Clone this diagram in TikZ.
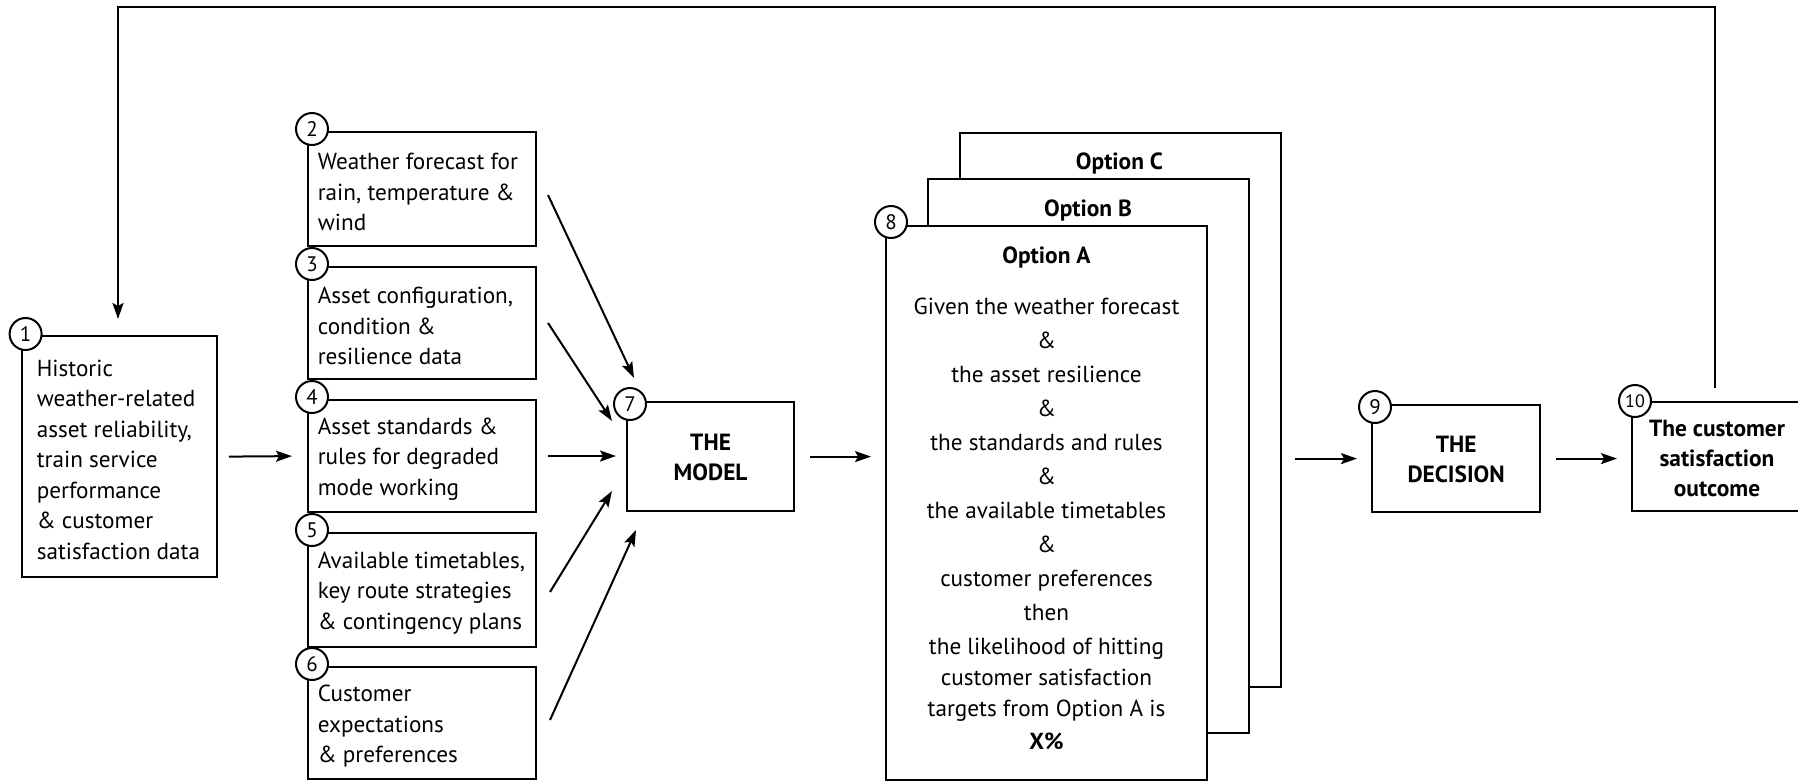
\documentclass[tikz,border=0pt]{standalone}
\usepackage{fontspec}
\setmainfont{PT Sans}
\usetikzlibrary{arrows.meta,calc}
\newcommand\mybody{\fontsize{23.2pt}{30.5pt}\selectfont}
\newcommand\mybold{\fontsize{23.4pt}{30pt}\selectfont\bfseries}
\newcommand\mynum{\fontsize{21pt}{21pt}\selectfont}
\begin{document}
\begin{tikzpicture}[x=1pt,y=-1pt,
  box/.style={draw,line width=2.2pt,fill=white,rectangle,inner sep=0pt,anchor=north west},
  txt/.style={font=\mybody,align=left,anchor=west,inner sep=0pt},
  ctxt/.style={font=\mybody,align=center,inner sep=0pt},
  btxt/.style={font=\mybold,align=center,inner sep=0pt},
  num/.style={circle,draw,line width=2pt,fill=white,minimum size=32pt,inner sep=0pt,font=\mynum},
  arr/.style={-{Stealth[length=16pt,width=11pt,inset=3pt]},line width=2pt}]
\useasboundingbox (0,0) rectangle (1798,780);

% boxes
\node[box,minimum width=195pt,minimum height=241pt] (b1) at (20.6,335) {};
\node[box,minimum width=228pt,minimum height=114pt] (b2) at (307,131) {};
\node[box,minimum width=228pt,minimum height=112pt] (b3) at (307,266) {};
\node[box,minimum width=228pt,minimum height=112pt] (b4) at (307,399) {};
\node[box,minimum width=228pt,minimum height=114pt] (b5) at (307,532) {};
\node[box,minimum width=228pt,minimum height=112pt] (b6) at (307,666) {};
\node[box,minimum width=167pt,minimum height=109pt] (m) at (626,401) {};
\node[box,minimum width=321pt,minimum height=554pt] (oC) at (959,132) {};
\node[box,minimum width=321pt,minimum height=554pt] (oB) at (927,178) {};
\node[box,minimum width=321pt,minimum height=554pt] (oA) at (885,225) {};
\node[box,minimum width=168pt,minimum height=107pt] (b9) at (1371,404) {};
\node[box,minimum width=172pt,minimum height=109pt] (b10) at (1631,401) {};

% texts
\node[txt] (t1) at ($(b1.west)+(16,3)$) {Historic\\weather-related\\asset reliability,\\train service\\performance\\\& customer\\satisfaction data};
\node[txt] (t2) at ($(b2.west)+(10.6,3)$) {Weather forecast for\\rain, temperature \&\\wind};
\node[txt] (t3) at ($(b3.west)+(10.6,3)$) {Asset configuration,\\condition \&\\resilience data};
\node[txt] (t4) at ($(b4.west)+(10.6,3)$) {Asset standards \&\\rules for degraded\\mode working};
\node[txt] (t5) at ($(b5.west)+(10.6,3)$) {Available timetables,\\key route strategies\\\& contingency plans};
\node[txt] (t6) at ($(b6.west)+(10.6,3)$) {Customer\\expectations\\\& preferences};
\node[btxt] (tm) at ($(m.center)+(0,1)$) {THE\\MODEL};
\node[btxt] (tC) at (1119.5,163) {Option C};
\node[btxt] (tB) at (1088,210) {Option B};
\node[btxt] (tA) at (1046.5,257) {Option A};
\node[ctxt,font=\fontsize{23.2pt}{34pt}\selectfont] (tAbody) at (1046.5,524) {Given the weather forecast\\\&\\the asset resilience\\\&\\the standards and rules\\\&\\the available timetables\\\&\\customer preferences\\then\\the likelihood of hitting\\[-3.5pt]customer satisfaction\\[-3pt]targets from Option A is\\[-1pt]\textbf{X\%}};
\node[btxt] (t9) at ($(b9.center)+(0,1)$) {THE\\DECISION};
\node[btxt] (t10) at (1717,458) {The customer\\satisfaction\\outcome};

% number circles
\node[num] (n1) at ($(b1.north west)+(5,-1)$) {1};
\node[num] (n2) at ($(b2.north west)+(5,-2)$) {2};
\node[num] (n3) at ($(b3.north west)+(5,-2)$) {3};
\node[num] (n4) at ($(b4.north west)+(5,-2)$) {4};
\node[num] (n5) at ($(b5.north west)+(5,-2)$) {5};
\node[num] (n6) at ($(b6.north west)+(5,-2)$) {6};
\node[num] (n7) at ($(m.north west)+(4,3)$) {7};
\node[num] (n8) at ($(oA.north west)+(6,-3)$) {8};
\node[num] (n9) at ($(b9.north west)+(4,3)$) {9};
\node[num,font=\fontsize{18pt}{18pt}\selectfont] (n10) at ($(b10.north west)+(4,0)$) {10};

% connectors
\draw[arr] ([xshift=11pt]b1.east) -- ([xshift=-15pt]b4.west);
\coordinate (a2s) at (548,195); \coordinate (a2e) at (634,378);
\coordinate (a3s) at (548,323); \coordinate (a3e) at (612,421);
\coordinate (a4s) at (548,456); \coordinate (a4e) at (616,456);
\coordinate (a5s) at (550,592); \coordinate (a5e) at (612,491);
\coordinate (a6s) at (550,720); \coordinate (a6e) at (636,530);
\draw[arr] (a2s) -- (a2e);
\draw[arr] (a3s) -- (a3e);
\draw[arr] (a4s) -- (a4e);
\draw[arr] (a5s) -- (a5e);
\draw[arr] (a6s) -- (a6e);
\draw[arr] ([xshift=15pt]m.east) -- ([xshift=-14pt]m.east -| oA.west);
\draw[arr] ([xshift=13pt]b9.west -| oC.east) -- ([xshift=-14pt]b9.west);
\draw[arr] ([xshift=15pt]b9.east) -- ([xshift=-14pt]b9.east -| b10.west);

% feedback loop
\coordinate (fbs) at (1715,388);
\coordinate (fbtr) at (1715,7);
\coordinate (fbtl) at (118,7);
\coordinate (fbe) at (118,319);
\draw[arr] (fbs) -- (fbtr) -- (fbtl) -- (fbe);
\end{tikzpicture}
\end{document}
